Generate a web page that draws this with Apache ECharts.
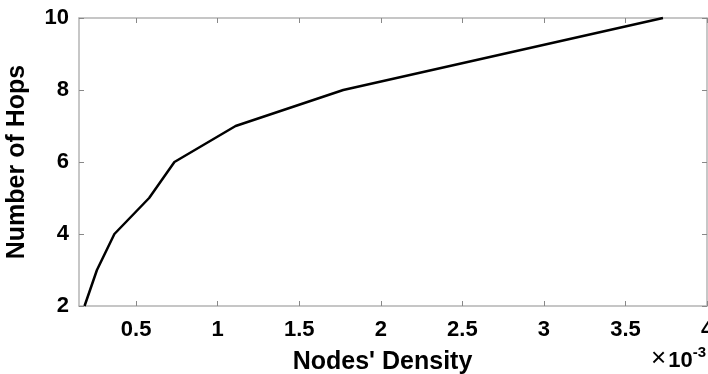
<!DOCTYPE html>
<html>
<head>
<meta charset="utf-8">
<script src="https://cdn.jsdelivr.net/npm/echarts@6/dist/echarts.min.js"></script>
<style>
html,body{margin:0;padding:0;background:#fff;}
#chart{width:708px;height:374px;}
</style>
</head>
<body>
<div id="chart"></div>
<script>
// Data (x in units of 1e-3)
const density = [0.184, 0.26, 0.367, 0.58, 0.735, 1.11, 1.77, 2.75, 3.73];
const hops = [2, 3, 4, 5, 6, 7, 8, 9, 10];
const xTicks = [0.5, 1, 1.5, 2, 2.5, 3, 3.5, 4];
const yTicks = [2, 4, 6, 8, 10];

const FONT = "'Liberation Sans', Arial, Helvetica, sans-serif";
const axisGray = '#b4b4b4';

const chart = echarts.init(document.getElementById('chart'), null, {renderer: 'canvas'});
const xBase = {
  type: 'value', min: 0.15, max: 4,
  splitLine: {show: false},
  axisLine: {show: true, onZero: false, lineStyle: {color: axisGray, width: 1.5}},
  axisTick: {show: true, inside: true, length: 5, customValues: xTicks, lineStyle: {color: '#888', width: 1}}
};
const yBase = {
  type: 'value', min: 2, max: 10, interval: 2,
  splitLine: {show: false},
  axisLine: {show: true, onZero: false, lineStyle: {color: axisGray, width: 1.5}},
  axisTick: {show: true, inside: true, length: 5, lineStyle: {color: '#888', width: 1}}
};

chart.setOption({
  animation: false,
  backgroundColor: '#fff',
  grid: {left: 79, right: 1, top: 18, bottom: 68, containLabel: false, outerBoundsMode: 'none'},
  xAxis: [
    Object.assign({}, xBase, {
      position: 'bottom',
      name: "Nodes' Density",
      nameLocation: 'middle',
      nameGap: 44,
      nameTextStyle: {fontFamily: FONT, fontWeight: 'bold', fontSize: 25, color: '#000', padding: [0, 21, 0, 0]},
      axisLabel: {show: true, customValues: xTicks, margin: 13, fontFamily: FONT, fontWeight: 'bold', fontSize: 22, color: '#000',
        formatter: v => String(v)}
    }),
    Object.assign({}, xBase, {position: 'top', axisLabel: {show: false}})
  ],
  yAxis: [
    Object.assign({}, yBase, {
      position: 'left',
      name: 'Number of Hops',
      nameLocation: 'middle',
      nameGap: 49,
      nameTextStyle: {fontFamily: FONT, fontWeight: 'bold', fontSize: 25, color: '#000'},
      axisLabel: {show: true, margin: 10, fontFamily: FONT, fontWeight: 'bold', fontSize: 22, color: '#000'}
    }),
    Object.assign({}, yBase, {position: 'right', axisLabel: {show: false}})
  ],
  graphic: [{
    type: 'text',
    right: 2,
    top: 345,
    style: {
      text: '{a|×}{c|10}{b|-3}',
      rich: {
        a: {fontFamily: FONT, fontSize: 26, fontWeight: 'normal', fill: '#000', verticalAlign: 'bottom', padding: [0, 2, 0, 0]},
        c: {fontFamily: FONT, fontSize: 22, fontWeight: 'bold', fill: '#000', verticalAlign: 'bottom'},
        b: {fontFamily: FONT, fontSize: 15, fontWeight: 'bold', fill: '#000', verticalAlign: 'top', padding: [0, 0, 12, 0]}
      }
    }
  }],
  series: [{
    type: 'line',
    xAxisIndex: 0, yAxisIndex: 0,
    data: density.map((d, i) => [d, hops[i]]),
    showSymbol: false,
    symbol: 'none',
    lineStyle: {color: '#000', width: 2.5},
    clip: false
  }]
});
</script>
</body>
</html>
